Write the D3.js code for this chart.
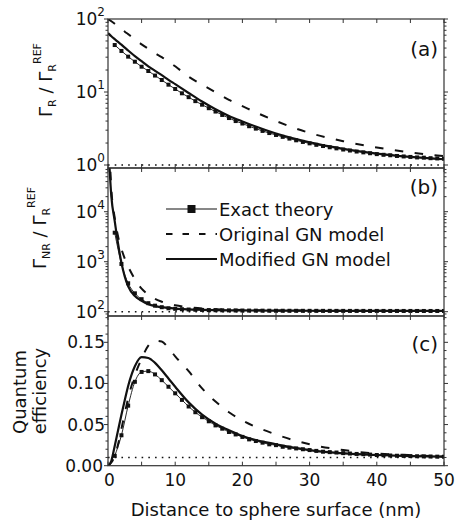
<!DOCTYPE html>
<html>
<head>
<meta charset="utf-8">
<script src="https://cdn.jsdelivr.net/npm/d3@7"></script>
<style>
  body { margin: 0; background: #fff; }
  svg { display: block; font-family: "DejaVu Sans", sans-serif; }
</style>
</head>
<body>
<div id="chart"></div>
<script>
const width = 455;
const height = 523;

// distances (nm) for the two GN model curves
const modelDistance = [0, 0.5, 1, 1.5, 2, 2.5, 3, 4, 5, 6, 7, 8, 9, 10, 12, 14, 16, 18, 20, 25, 30, 35, 40, 45, 50];
// distances (nm) of the exact theory points
const exactDistance = [1, 2, 3, 4, 5, 6, 7, 8, 9, 10, 11, 12, 13, 14, 15, 16, 17, 18, 19, 20,
  21, 22, 23, 24, 25, 26, 27, 28, 29, 30, 31, 32, 33, 34, 35, 36, 37, 38, 39, 40,
  41, 42, 43, 44, 45, 46, 47, 48, 49, 50];

// (a) radiative rate
const radiativeOriginal = [100, 93, 86, 79, 73, 67, 62, 53, 45, 39, 34, 30, 26, 22.5, 16.2, 12.6, 9.9, 7.8, 6.4, 4.0, 2.75, 2.12, 1.74, 1.49, 1.32];
const radiativeModified = [64, 58, 53, 48.5, 44.5, 40.5, 37, 31, 26.5, 22.5, 19.5, 17, 14.7, 12.8, 9.7, 7.4, 5.8, 4.7, 3.95, 2.7, 2.05, 1.67, 1.43, 1.29, 1.2];
const radiativeExact = [44, 36.5, 30.5, 26, 22.2, 19.4, 16.8, 14.6, 12.6, 11.0, 9.6, 8.5, 7.5, 6.7, 6.0, 5.4, 4.85, 4.4, 4.0, 3.7,
  3.4, 3.15, 2.93, 2.74, 2.58, 2.43, 2.3, 2.18, 2.07, 1.98, 1.89, 1.82, 1.75, 1.69, 1.63, 1.58, 1.53, 1.49, 1.45, 1.41,
  1.38, 1.36, 1.33, 1.31, 1.29, 1.27, 1.26, 1.24, 1.23, 1.22];

// (b) non-radiative rate
const nonRadiativeOriginal = [1e6, 28000, 7500, 3200, 1800, 1150, 800, 450, 290, 220, 180, 158, 143, 134, 123, 116, 112, 110, 108, 106, 105, 104.5, 104, 104, 103.5];
const nonRadiativeModified = [3e5, 20000, 6500, 2300, 950, 500, 320, 205, 166, 141, 129, 123, 119, 115, 111, 109, 107.5, 106.5, 106, 105, 104.5, 104, 104, 104, 103.5];
const nonRadiativeExact = [3800, 900, 370, 233, 178, 148, 132, 123, 117, 114, 112, 110.5, 109.3, 108.4, 107.7, 107.1, 106.6, 106.2, 105.8, 105.5,
  105.2, 105, 104.8, 104.6, 104.5, 104.4, 104.3, 104.2, 104.1, 104, 104, 103.9, 103.9, 103.8, 103.8, 103.7, 103.7, 103.7, 103.6, 103.6,
  103.6, 103.5, 103.5, 103.5, 103.5, 103.4, 103.4, 103.4, 103.4, 103.4];

// (c) quantum efficiency
const efficiencyOriginal = [0, 0.004, 0.012, 0.026, 0.045, 0.064, 0.082, 0.11, 0.13, 0.146, 0.152, 0.151, 0.143, 0.133, 0.115, 0.094, 0.078, 0.065, 0.055, 0.038, 0.026, 0.019, 0.0147, 0.013, 0.011];
const efficiencyModified = [0, 0.006, 0.024, 0.043, 0.062, 0.08, 0.097, 0.121, 0.132, 0.131, 0.125, 0.116, 0.106, 0.096, 0.077, 0.062, 0.051, 0.043, 0.036, 0.026, 0.019, 0.015, 0.013, 0.0117, 0.011];
const efficiencyExact = [0.012, 0.037, 0.073, 0.102, 0.114, 0.115, 0.111, 0.104, 0.096, 0.088, 0.08, 0.072, 0.065, 0.059, 0.054, 0.049, 0.045, 0.041, 0.038, 0.035,
  0.032, 0.03, 0.028, 0.026, 0.025, 0.023, 0.022, 0.021, 0.02, 0.019, 0.018, 0.017, 0.0165, 0.016, 0.0153, 0.0148, 0.0143, 0.014, 0.0135, 0.013,
  0.0127, 0.0124, 0.0121, 0.0119, 0.0117, 0.0115, 0.0113, 0.0112, 0.011, 0.0109];

// dotted reference levels, one per panel
const referenceLevels = [1, 100, 0.01];

const xTickValues = [0, 5, 10, 15, 20, 25, 30, 35, 40, 45, 50];
const xTickLabels = ["0", "10", "20", "30", "40", "50"];
const efficiencyTickLabels = ["0.00", "0.05", "0.10", "0.15"];
const panelLetters = ["(a)", "(b)", "(c)"];
const legendLabels = ["Exact theory", "Original GN model", "Modified GN model"];

const ink = "#111";
const frameColor = "#333";

const svg = d3
  .select("#chart")
  .append("svg")
  .attr("width", width)
  .attr("height", height);

const x = d3.scaleLinear().domain([0, 50]).range([108, 444]);

const panels = [
  {
    top: 19, bottom: 168, log: true,
    y: d3.scaleLog().domain([0.91, 100]).range([168, 19]),
    original: radiativeOriginal, modified: radiativeModified, exact: radiativeExact,
    letterY: 56,
  },
  {
    top: 168, bottom: 316, log: true,
    y: d3.scaleLog().domain([82, 74800]).range([316, 168]),
    original: nonRadiativeOriginal, modified: nonRadiativeModified, exact: nonRadiativeExact,
    letterY: 194,
  },
  {
    top: 316, bottom: 465.7, log: false,
    y: d3.scaleLinear().domain([0, 0.182]).range([465.7, 316]),
    original: efficiencyOriginal, modified: efficiencyModified, exact: efficiencyExact,
    letterY: 351,
  },
];

panels.forEach((p, i) => {
  const g = svg.append("g");
  const clipId = `clip-${i}`;

  svg.append("clipPath").attr("id", clipId)
    .append("rect")
    .attr("x", x(0)).attr("y", p.top)
    .attr("width", x(50) - x(0)).attr("height", p.bottom - p.top);

  const plot = g.append("g").attr("clip-path", `url(#${clipId})`);

  // dotted reference line
  plot.append("line")
    .attr("x1", x(0)).attr("x2", x(50))
    .attr("y1", p.y(referenceLevels[i])).attr("y2", p.y(referenceLevels[i]))
    .attr("stroke", ink).attr("stroke-width", 1.6)
    .attr("stroke-dasharray", "1.6,5.12");

  const line = d3.line()
    .x((d) => x(d[0]))
    .y((d) => p.y(d[1]))
    .curve(d3.curveMonotoneX);

  plot.append("path")
    .attr("d", line(d3.zip(modelDistance, p.original)))
    .attr("fill", "none").attr("stroke", ink).attr("stroke-width", 2)
    .attr("stroke-dasharray", "8.5,11.5");

  const exactPoints = d3.zip(exactDistance, p.exact);

  plot.append("path")
    .attr("d", line(exactPoints))
    .attr("fill", "none").attr("stroke", ink).attr("stroke-width", 0.9);

  plot.selectAll("rect.pt").data(exactPoints).join("rect")
    .attr("class", "pt")
    .attr("x", (d) => x(d[0]) - 2).attr("y", (d) => p.y(d[1]) - 2)
    .attr("width", 4).attr("height", 4)
    .attr("fill", ink);

  plot.append("path")
    .attr("d", line(d3.zip(modelDistance, p.modified)))
    .attr("fill", "none").attr("stroke", ink).attr("stroke-width", 2.2);

  // frame
  g.append("rect")
    .attr("x", x(0)).attr("y", p.top)
    .attr("width", x(50) - x(0)).attr("height", p.bottom - p.top)
    .attr("fill", "none").attr("stroke", frameColor).attr("stroke-width", 1.2);

  // x ticks, inward on top and bottom
  xTickValues.forEach((v) => {
    g.append("line")
      .attr("x1", x(v)).attr("x2", x(v))
      .attr("y1", p.bottom).attr("y2", p.bottom - 4)
      .attr("stroke", frameColor).attr("stroke-width", 1);
    g.append("line")
      .attr("x1", x(v)).attr("x2", x(v))
      .attr("y1", p.top).attr("y2", p.top + 4)
      .attr("stroke", frameColor).attr("stroke-width", 1);
  });

  // y ticks, outward on both sides
  let yTicks;
  if (p.log) {
    yTicks = p.y.ticks().map((v) => ({
      v, major: Math.abs(Math.log10(v) - Math.round(Math.log10(v))) < 1e-9,
    }));
  } else {
    yTicks = d3.range(0, 19).map((k) => ({ v: k / 100, major: k % 5 === 0 }));
  }
  yTicks.forEach((t) => {
    const yy = p.y(t.v);
    if (yy < p.top - 0.5 || yy > p.bottom + 0.5) return;
    const len = t.major ? 4 : 2.5;
    g.append("line")
      .attr("x1", x(0)).attr("x2", x(0) - len)
      .attr("y1", yy).attr("y2", yy)
      .attr("stroke", frameColor).attr("stroke-width", 1);
    g.append("line")
      .attr("x1", x(50)).attr("x2", x(50) + len)
      .attr("y1", yy).attr("y2", yy)
      .attr("stroke", frameColor).attr("stroke-width", 1);
  });

  // y tick labels
  if (p.log) {
    yTicks.filter((t) => t.major).forEach((t) => {
      const label = g.append("text")
        .attr("x", 105).attr("y", p.y(t.v) + 6)
        .attr("text-anchor", "end")
        .attr("fill", ink);
      label.append("tspan").attr("font-size", 17).text("10");
      label.append("tspan").attr("font-size", 12).attr("dy", -9)
        .text(String(Math.round(Math.log10(t.v))));
    });
  } else {
    efficiencyTickLabels.forEach((s, k) => {
      g.append("text")
        .attr("x", k === 0 ? 103 : 105).attr("y", p.y(k * 0.05) + 6)
        .attr("text-anchor", "end")
        .attr("font-size", 17).attr("fill", ink)
        .text(s);
    });
  }

  g.append("text")
    .attr("x", 438).attr("y", p.letterY)
    .attr("text-anchor", "end")
    .attr("font-size", 20).attr("fill", ink)
    .text(panelLetters[i]);
});

// x tick labels
xTickLabels.forEach((s) => {
  svg.append("text")
    .attr("x", x(+s) + (s === "0" ? 1.5 : 0)).attr("y", 486)
    .attr("text-anchor", "middle")
    .attr("font-size", 17).attr("fill", ink)
    .text(s);
});

svg.append("text")
  .attr("x", (x(0) + x(50)) / 2).attr("y", 516)
  .attr("text-anchor", "middle")
  .attr("font-size", 18).attr("fill", ink)
  .text("Distance to sphere surface (nm)");

// rotated y titles
function rotatedLabel(cx, cy, parts) {
  const t = svg.append("text")
    .attr("transform", `translate(${cx},${cy}) rotate(-90)`)
    .attr("text-anchor", "middle")
    .attr("fill", ink);
  parts.forEach(([text, size, dy]) => {
    t.append("tspan").attr("font-size", size).attr("dy", dy).text(text);
  });
}

rotatedLabel(52, 80, [
  ["Γ", 18, 0], ["R", 11, 4], [" / ", 18, -4], ["Γ", 18, 0], ["R", 11, 4], ["REF", 11, -15],
]);
rotatedLabel(46, 228, [
  ["Γ", 18, 0], ["NR", 11, 4], [" / ", 18, -4], ["Γ", 18, 0], ["R", 11, 4], ["REF", 11, -15],
]);
rotatedLabel(26, 392, [["Quantum", 18, 0]]);
rotatedLabel(46, 391, [["efficiency", 18, 0]]);

// legend
const legendRows = [209, 234, 259];
const legendX0 = 166;
const legendX1 = 217;

svg.append("line")
  .attr("x1", legendX0).attr("x2", legendX1)
  .attr("y1", legendRows[0]).attr("y2", legendRows[0])
  .attr("stroke", ink).attr("stroke-width", 1.2);
svg.append("rect")
  .attr("x", (legendX0 + legendX1) / 2 - 4).attr("y", legendRows[0] - 4)
  .attr("width", 8).attr("height", 8).attr("fill", ink);

svg.append("line")
  .attr("x1", legendX0).attr("x2", legendX1)
  .attr("y1", legendRows[1]).attr("y2", legendRows[1])
  .attr("stroke", ink).attr("stroke-width", 2)
  .attr("stroke-dasharray", "6.5,10");

svg.append("line")
  .attr("x1", legendX0).attr("x2", legendX1)
  .attr("y1", legendRows[2]).attr("y2", legendRows[2])
  .attr("stroke", ink).attr("stroke-width", 2);

legendLabels.forEach((s, k) => {
  svg.append("text")
    .attr("x", 219).attr("y", legendRows[k] + 6.7)
    .attr("font-size", 18).attr("fill", ink)
    .text(s);
});
</script>
</body>
</html>
